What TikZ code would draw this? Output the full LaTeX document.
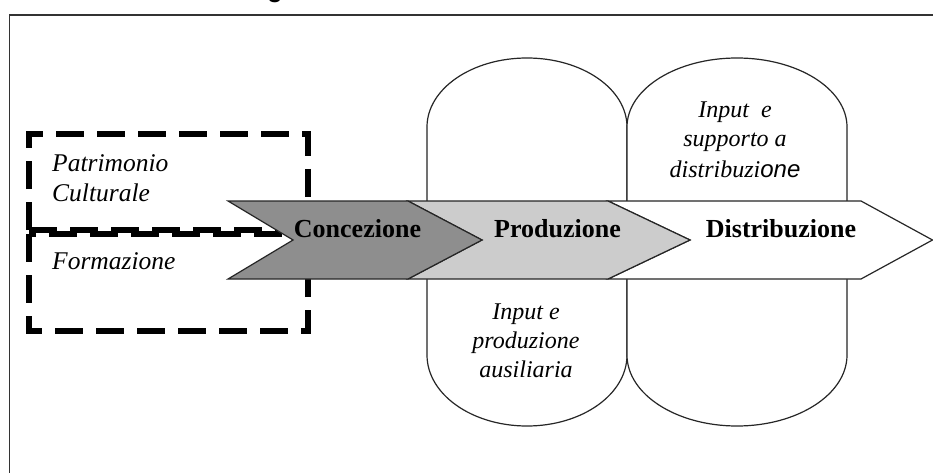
\documentclass[tikz,border=0pt]{standalone}
\usepackage{fontspec}
\setmainfont{Liberation Serif}
\setsansfont{Liberation Sans}
\newfontfamily\sansit{Liberation Sans}[ItalicFont=* Italic]
\definecolor{darkgrayfill}{RGB}{142,142,142}
\definecolor{lightgrayfill}{RGB}{204,204,204}
\begin{document}
\begin{tikzpicture}[x=1pt,y=-1pt,
  outline/.style={draw=black!85, line width=1.2pt},
  dashbox/.style={draw=black, line width=5.5pt, dash pattern=on 28pt off 13pt},
  steplabel/.style={font=\fontsize{26}{30}\selectfont\bfseries, anchor=base, inner sep=0pt},
  sidetext/.style={font=\fontsize{25.5}{30}\selectfont\itshape, anchor=base west, inner sep=0pt},
  pillartext/.style={font=\fontsize{24}{29}\selectfont\itshape, anchor=base, inner sep=0pt}]
\useasboundingbox (0,0) rectangle (933,473);
\fill[white] (0,0) rectangle (933,473);
% frame
\draw[line width=1.3pt, black!80] (933,15) -- (9.5,15) -- (9.5,473);
% cropped title fragment
\node[font=\fontsize{25}{30}\selectfont\sffamily\bfseries, anchor=base, inner sep=0pt] (title) at (275,-2) {g};
% dashed boxes
\draw[dashbox] (29,230) -- (29,134) -- (308,134) -- (308,230);
\draw[dashbox] (29,230) -- (308,230);
\draw[dashbox] (29,234) -- (29,331) -- (308,331) -- (308,234);
\draw[dashbox, dash phase=21pt] (29,234) -- (308,234);
% pillars
\draw[outline, fill=white] (427,201) -- (427,127) arc[start angle=180, end angle=0, x radius=100pt, y radius=69pt] -- (627,201);
\draw[outline, fill=white] (627,201) -- (627,127) arc[start angle=180, end angle=0, x radius=110pt, y radius=69pt] -- (847,201);
\draw[outline, fill=white] (427,279) -- (427,355) arc[start angle=180, end angle=360, x radius=100pt, y radius=71pt] -- (627,279);
\draw[outline, fill=white] (627,279) -- (627,355) arc[start angle=180, end angle=360, x radius=110pt, y radius=71pt] -- (847,279);
% chevrons
\draw[outline, fill=white] (608,201) -- (861,201) -- (932.5,240) -- (861,279) -- (608,279) -- (690,240) -- cycle;
\draw[outline, fill=lightgrayfill] (408,201) -- (608,201) -- (690,240) -- (608,279) -- (408,279) -- (482,240) -- cycle;
\draw[outline, fill=darkgrayfill] (228,201) -- (408,201) -- (482,240) -- (408,279) -- (228,279) -- (293,240) -- cycle;
% labels
\node[steplabel] (conc) at (357.5,237) {Concezione};
\node[steplabel] (prod) at (557.5,237) {Produzione};
\node[steplabel] (dist) at (781,237) {Distribuzione};
\node[sidetext] (patr) at (52,171.5) {Patrimonio};
\node[sidetext] (cult) at (52,201.5) {Culturale};
\node[sidetext] (form) at (52,269) {Formazione};
\node[pillartext] (supa) at (735,118) {Input\ \ e};
\node[pillartext] (supb) at (735,147) {supporto a};
\node[pillartext] (supc) at (735,178) {distribuzi{\sansit\itshape one}};
\node[pillartext] (ausa) at (526,319) {Input e};
\node[pillartext] (ausb) at (526,348) {produzione};
\node[pillartext] (ausc) at (526,377) {ausiliaria};
\end{tikzpicture}
\end{document}
